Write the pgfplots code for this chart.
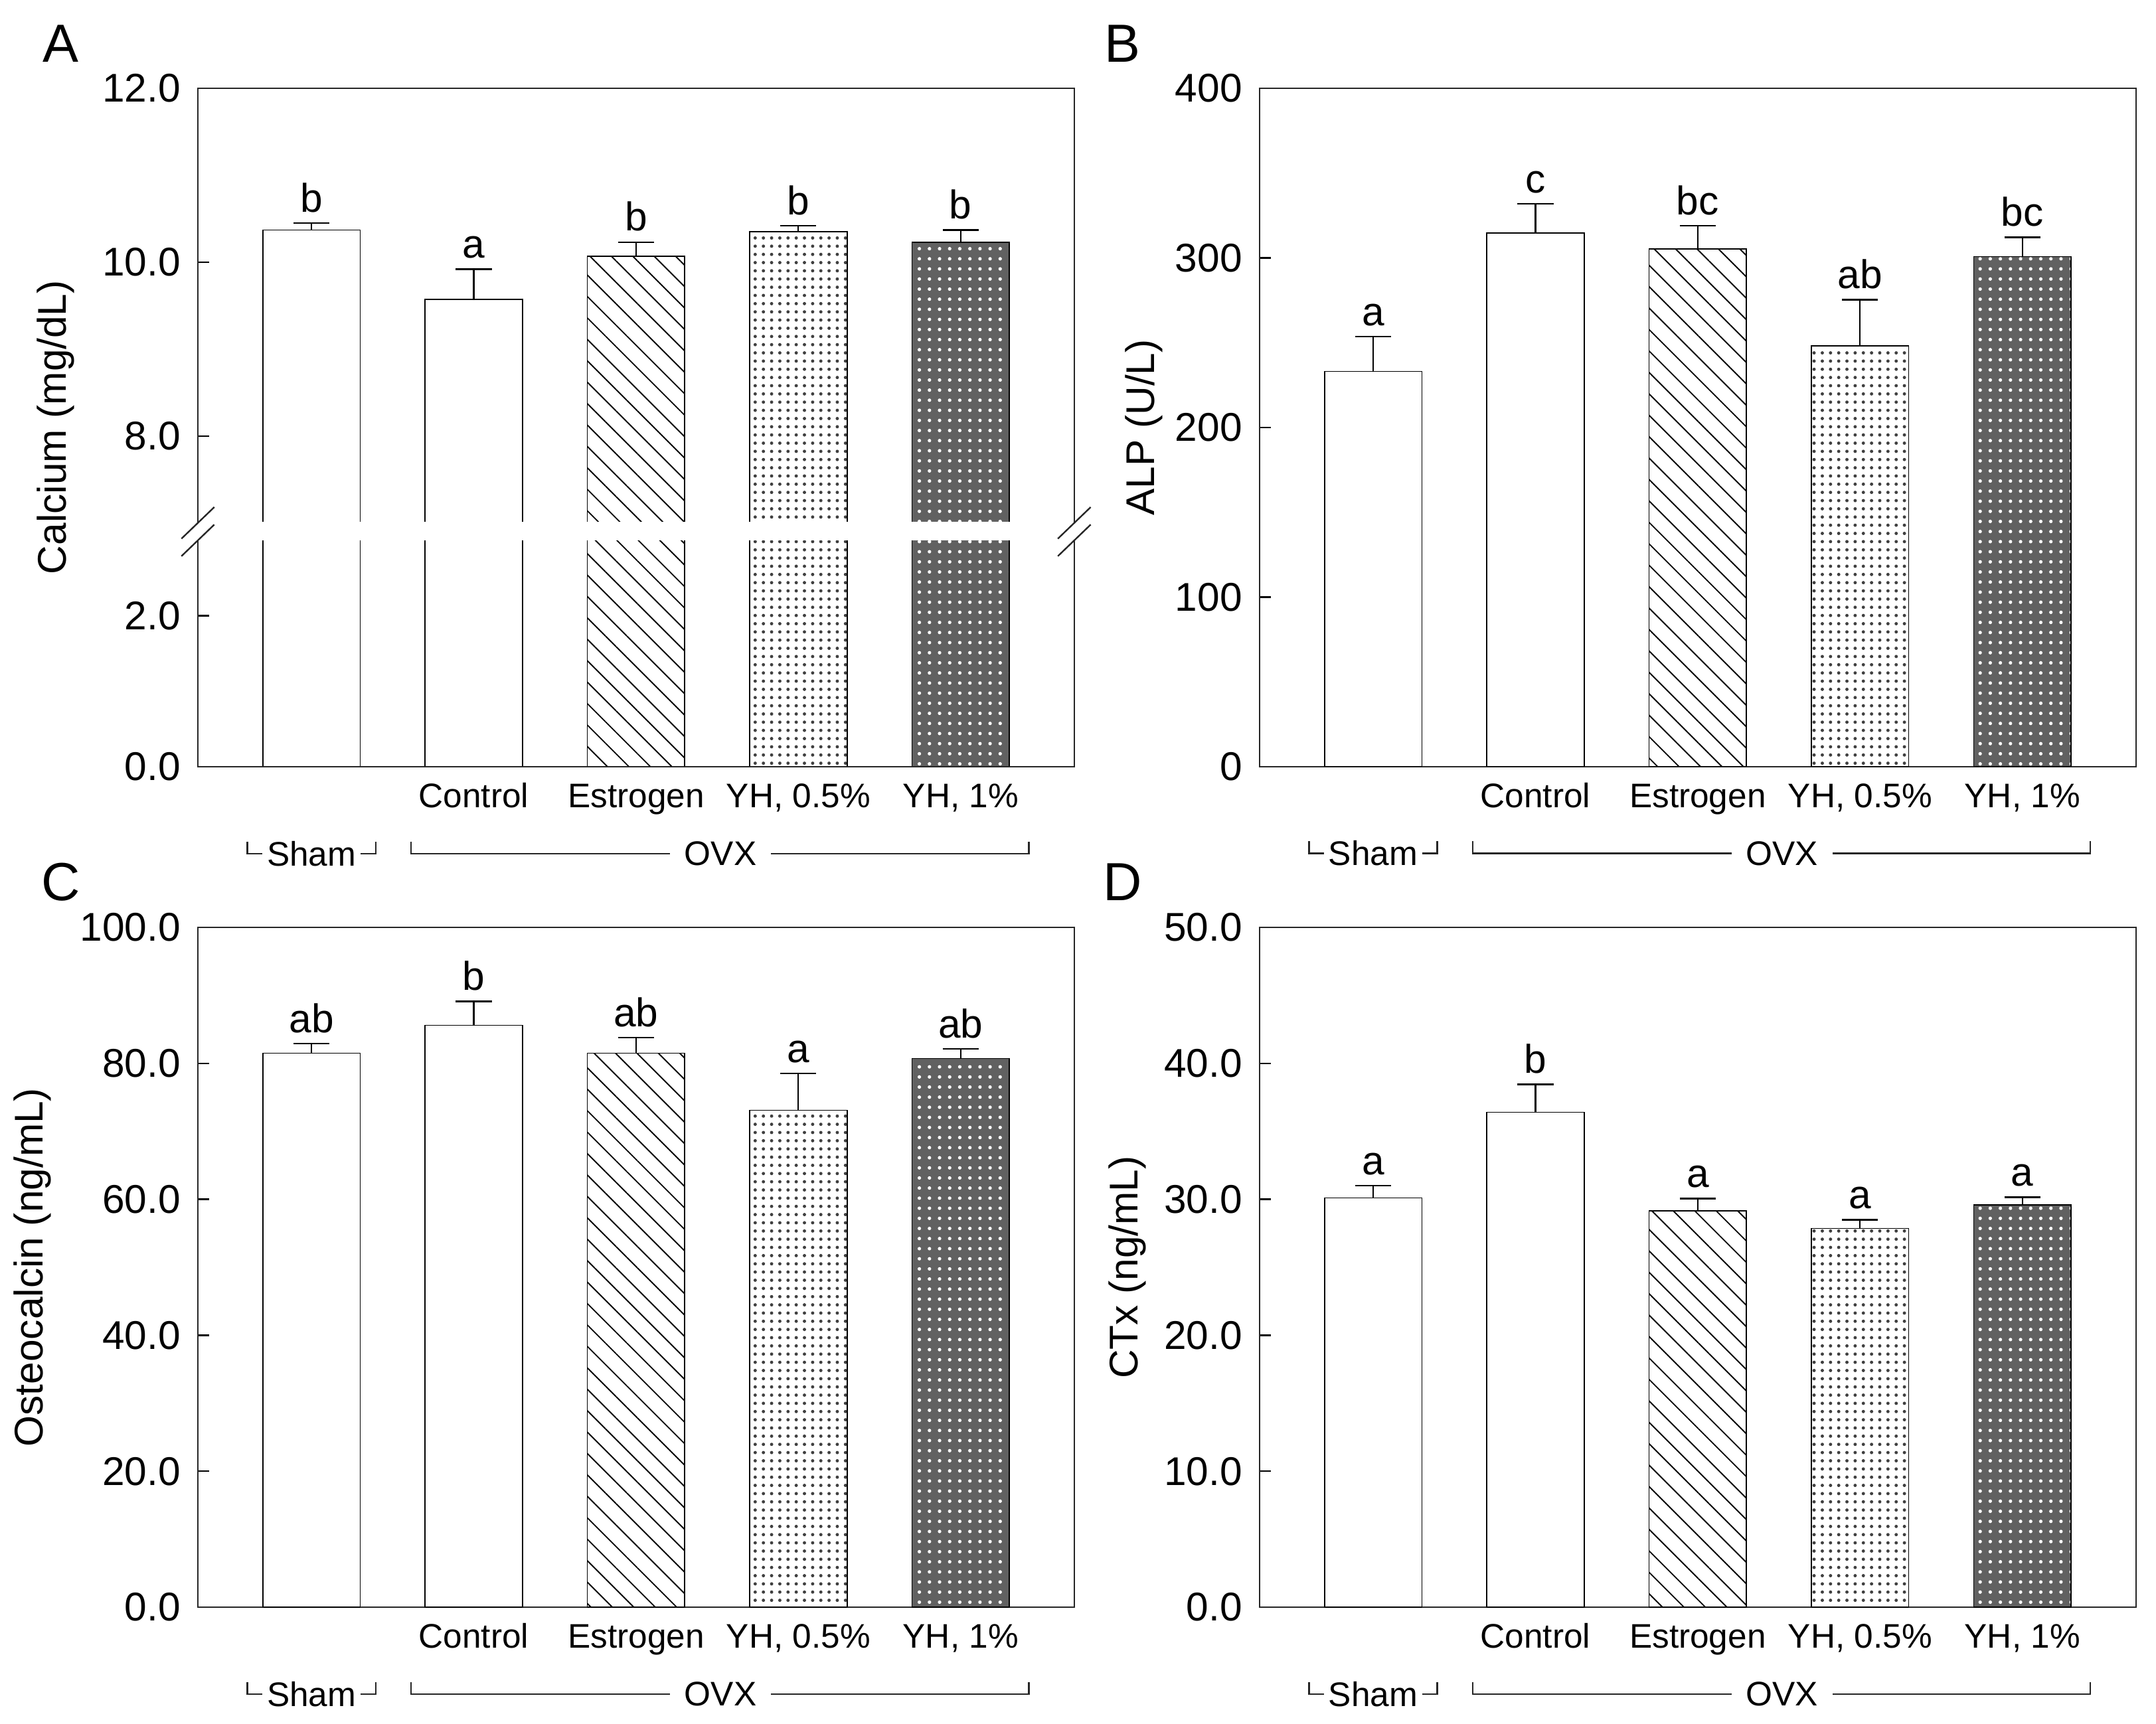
\documentclass[border=0pt]{standalone}
\usepackage{fontspec}
\setmainfont{Liberation Sans}
\usepackage{pgfplots}
\usepackage{pgfplotstable}
\pgfplotsset{compat=1.18}
\usetikzlibrary{patterns.meta}

\newcommand\tickfont{\fontsize{12.7}{14}\selectfont}
\newcommand\catfont{\fontsize{10.8}{12}\selectfont}
\newcommand\letfont{\fontsize{12.7}{14}\selectfont}
\newcommand\labfont{\fontsize{12.7}{14}\selectfont}
\newcommand\panfont{\fontsize{17}{20}\selectfont}

% x = group (0 Sham, 1 Control, 2 Estrogen, 3 YH 0.5%, 4 YH 1%), m = mean, e = SE, lab = letter
\pgfplotstableread{
x m e lab
0 10.37 0.08 b
1 9.57 0.35 a
2 10.07 0.16 b
3 10.35 0.07 b
4 10.23 0.14 b
}\tabA
\pgfplotstableread{
x m e lab
0 233.0 20.5 a
1 314.6 17.3 c
2 305.2 13.7 bc
3 248.0 27.3 ab
4 300.7 11.4 bc
}\tabB
\pgfplotstableread{
x m e lab
0 81.5 1.4 ab
1 85.6 3.5 b
2 81.5 2.3 ab
3 73.1 5.4 a
4 80.7 1.4 ab
}\tabC
\pgfplotstableread{
x m e lab
0 30.1 0.9 a
1 36.4 2.05 b
2 29.16 0.89 a
3 27.86 0.64 a
4 29.6 0.56 a
}\tabD

\pgfplotsset{
  panel/.style={
    scale only axis, width=277.6pt, anchor=north west,
    clip mode=individual,
    xmin=-0.7, xmax=4.7, ymin=0,
    xtick={0,...,4},
    xticklabels={,Control,Estrogen,{YH, 0.5\%},{YH, 1\%}},
    xtick style={draw=none},
    ytick pos=left, tick align=inside, major tick length=3.6pt,
    minor tick num=0,
    ytick style={black, line width=0.5pt},
    axis line style={black!85, line width=0.5pt},
    yticklabel style={font=\tickfont, xshift=-2pt},
    xticklabel style={font=\catfont, text height=7.8pt, yshift=-1.6pt},
    /pgf/number format/assume math mode=true,
    every axis y label/.style={font=\labfont, rotate=90, anchor=center},
  },
  onedec/.style={/pgf/number format/fixed, /pgf/number format/fixed zerofill, /pgf/number format/precision=1},
  errb/.style={/pgfplots/error bars/y dir=plus, /pgfplots/error bars/y explicit,
    /pgfplots/error bars/error mark=-,
    /pgfplots/error bars/error bar style={black, line width=0.45pt},
    /pgfplots/error bars/error mark options={rotate=90, black, line width=0.5pt, mark size=5.7pt}},
}

\newcommand\onebar[3]{\addplot[ybar, bar width=0.6, draw=black, line width=0.35pt, #2, errb]
  table[x=x, y=m, y error=e, restrict x to domain=#3:#3] {#1};}
\newcommand\bars[1]{%
  \onebar{#1}{fill=white}{0}
  \onebar{#1}{fill=white}{1}
  \onebar{#1}{fill=white, postaction={pattern={Lines[angle=-45,distance=4.8pt,line width=0.4pt]}}}{2}
  \onebar{#1}{fill=white, postaction={pattern={Dots[distance=2.6pt,radius=0.52pt]}, pattern color=black!75}}{3}
  \onebar{#1}{fill=black!62, postaction={pattern={Dots[distance=3.2pt,radius=0.55pt]}, pattern color=white}}{4}
}
\newcommand\letters[1]{\addplot[draw=none, mark=none, forget plot, nodes near coords,
  point meta=explicit symbolic,
  every node near coord/.append style={inner sep=0pt, yshift=3.2pt, font=\letfont, black}]
  table[x=x, y expr=\thisrow{m}+\thisrow{e}, meta=lab] {#1};}
\newcommand\groups{%
  \draw[line width=0.45pt, black!85] ([yshift=-23.7pt]axis cs:-0.395,0) |- ([yshift=-27.5pt]axis cs:0.395,0)
    -- ([yshift=-23.7pt]axis cs:0.395,0);
  \node[fill=white, inner xsep=1.5pt, inner ysep=1pt, font=\catfont] at ([yshift=-27.5pt]axis cs:0,0) {Sham};
  \draw[line width=0.45pt, black!85] ([yshift=-23.7pt]axis cs:0.615,0) |- ([yshift=-27.5pt]axis cs:4.42,0)
    -- ([yshift=-23.7pt]axis cs:4.42,0);
  \node[fill=white, inner xsep=4.5pt, inner ysep=1pt, font=\catfont] at ([yshift=-27.5pt]axis cs:2.52,0) {OVX};
}

\begin{document}
\begin{tikzpicture}
\useasboundingbox (0,0) rectangle (682.9pt,-546pt);

% ---- A: calcium, broken axis ----
\begin{axis}[panel, at={(62.67pt,-27.97pt)}, height=137.7pt,
  ymin=7, ymax=12, ytick={8,10,12}, xtick=\empty, onedec,
  axis line style={draw=none},
  ylabel={Calcium (mg/dL)}, ylabel style={at={([xshift=-45pt]rel axis cs:0,0.22)}}]
  \bars{\tabA}
  \letters{\tabA}
  % open the bars at the break
  \fill[white] ([yshift=-1pt]rel axis cs:0,0) rectangle ([yshift=0.4pt]rel axis cs:1,0);
  \draw[line width=0.5pt, black!85] (rel axis cs:0,0) -- (rel axis cs:0,1) -- (rel axis cs:1,1) -- (rel axis cs:1,0);
  \draw[line width=0.5pt, black!85] ([shift={(-5.2pt,-5pt)}]rel axis cs:0,0) -- ([shift={(5.2pt,5pt)}]rel axis cs:0,0);
  \draw[line width=0.5pt, black!85] ([shift={(-5.2pt,-5pt)}]rel axis cs:1,0) -- ([shift={(5.2pt,5pt)}]rel axis cs:1,0);
\end{axis}
\begin{axis}[panel, at={(62.67pt,-171.2pt)}, height=71.7pt,
  ymin=0, ymax=3, ytick={0,2}, onedec,
  axis line style={draw=none}, errb/.style={}]
  \bars{\tabA}
  \draw[line width=0.5pt, black!85] (rel axis cs:0,1) -- (rel axis cs:0,0) -- (rel axis cs:1,0) -- (rel axis cs:1,1);
  \draw[line width=0.5pt, black!85] ([shift={(-5.2pt,-5pt)}]rel axis cs:0,1) -- ([shift={(5.2pt,5pt)}]rel axis cs:0,1);
  \draw[line width=0.5pt, black!85] ([shift={(-5.2pt,-5pt)}]rel axis cs:1,1) -- ([shift={(5.2pt,5pt)}]rel axis cs:1,1);
  \groups
\end{axis}

% ---- B: ALP ----
\begin{axis}[panel, at={(398.95pt,-27.97pt)}, height=214.9pt,
  ymax=400, ytick={0,100,...,400},
  /pgf/number format/fixed, /pgf/number format/precision=0,
  ylabel={ALP (U/L)}, ylabel style={at={([xshift=-36.6pt]rel axis cs:0,0.5)}}]
  \bars{\tabB}
  \letters{\tabB}
  \groups
\end{axis}

% ---- C: osteocalcin ----
\begin{axis}[panel, at={(62.67pt,-293.8pt)}, height=215.4pt,
  ymax=100, ytick={0,20,...,100}, onedec,
  ylabel={Osteocalcin (ng/mL)}, ylabel style={at={([xshift=-52.4pt]rel axis cs:0,0.5)}}]
  \bars{\tabC}
  \letters{\tabC}
  \groups
\end{axis}

% ---- D: CTx ----
\begin{axis}[panel, at={(398.95pt,-293.8pt)}, height=215.4pt,
  ymax=50, ytick={0,10,...,50}, onedec,
  ylabel={CTx (ng/mL)}, ylabel style={at={([xshift=-41.9pt]rel axis cs:0,0.5)}}]
  \bars{\tabD}
  \letters{\tabD}
  \groups
\end{axis}

\node[font=\panfont] at (19.3pt,-13.9pt) {A};
\node[font=\panfont] at (355.6pt,-13.9pt) {B};
\node[font=\panfont] at (19.3pt,-279.5pt) {C};
\node[font=\panfont] at (355.6pt,-279.5pt) {D};
\end{tikzpicture}
\end{document}
